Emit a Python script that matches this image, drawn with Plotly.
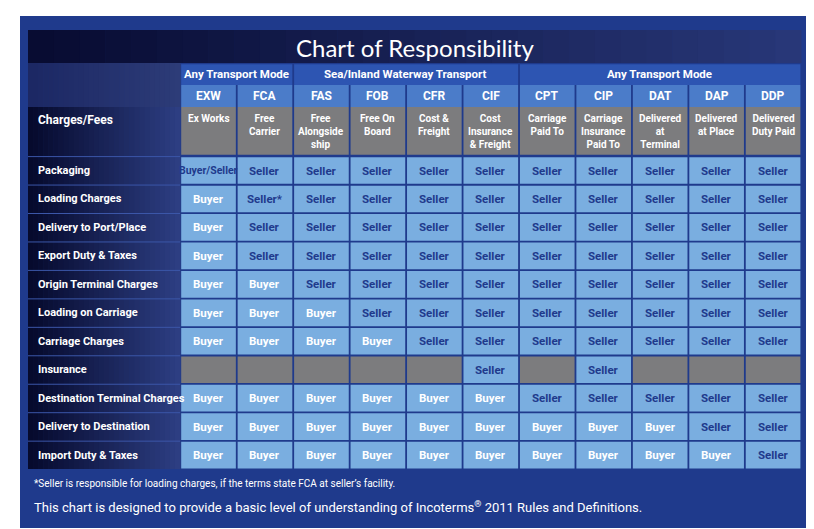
import plotly.graph_objects as go

title = "Chart of Responsibility"
groups = [("Any Transport Mode", 0, 2), ("Sea/Inland Waterway Transport", 2, 6), ("Any Transport Mode", 6, 11)]
codes = ["EXW", "FCA", "FAS", "FOB", "CFR", "CIF", "CPT", "CIP", "DAT", "DAP", "DDP"]
descs = ["Ex Works", "Free<br>Carrier", "Free<br>Alongside<br>ship", "Free On<br>Board", "Cost &<br>Freight",
         "Cost<br>Insurance<br>& Freight", "Carriage<br>Paid To", "Carriage<br>Insurance<br>Paid To",
         "Delivered<br>at<br>Terminal", "Delivered<br>at Place", "Delivered<br>Duty Paid"]
rows = ["Packaging", "Loading Charges", "Delivery to Port/Place", "Export Duty & Taxes", "Origin Terminal Charges",
        "Loading on Carriage", "Carriage Charges", "Insurance", "Destination Terminal Charges",
        "Delivery to Destination", "Import Duty & Taxes"]
B, S, N = "Buyer", "Seller", ""
values = [
    ["Buyer/Seller", S, S, S, S, S, S, S, S, S, S],
    [B, "Seller*", S, S, S, S, S, S, S, S, S],
    [B, S, S, S, S, S, S, S, S, S, S],
    [B, S, S, S, S, S, S, S, S, S, S],
    [B, B, S, S, S, S, S, S, S, S, S],
    [B, B, B, S, S, S, S, S, S, S, S],
    [B, B, B, B, S, S, S, S, S, S, S],
    [N, N, N, N, N, S, N, S, N, N, N],
    [B, B, B, B, B, B, S, S, S, S, S],
    [B, B, B, B, B, B, B, B, B, S, S],
    [B, B, B, B, B, B, B, B, B, B, S],
]
footnote = "*Seller is responsible for loading charges, if the terms state FCA at seller’s facility."
caption = "This chart is designed to provide a basic level of understanding of Incoterms<sup>®</sup> 2011 Rules and Definitions."

FONT = "Roboto, Liberation Sans, sans-serif"
X0, XL, X1 = 20, 172, 793
CW = (X1 - XL) / len(codes)
Y_T, Y_G, Y_C, Y_D, Y_R = 22, 55, 77, 99, 148
RH = (461 - Y_R) / len(rows)
GAP = 1.2

shapes, ann = [], []
def rect(x0, y0, x1, y1, color, layer="below"):
    shapes.append(dict(type="rect", xref="x", yref="y", x0=x0, y0=y0, x1=x1, y1=y1,
                       fillcolor=color, line=dict(width=0), layer=layer))
def text(x, y, t, size, color, xa="center", family=FONT, ya="middle"):
    ann.append(dict(x=x, y=y, xref="x", yref="y", text=t, showarrow=False, xanchor=xa, yanchor=ya,
                    font=dict(family=family, size=size, color=color)))

rect(12, 8, 806, 520, "#1f3a8c")
def lerp(c1, c2, t):
    return "rgb(%d,%d,%d)" % tuple(int(a + (b - a) * t) for a, b in zip(c1, c2))
n = 30
for i in range(n):
    t = i / (n - 1)
    xa = X0 + (X1 - X0) * i / n; xb = X0 + (X1 - X0) * (i + 1) / n + 0.5
    rect(xa, Y_T, xb, Y_G, lerp((8, 12, 50), (40, 55, 120), t))
    xa = X0 + (XL - X0) * i / n; xb = X0 + (XL - X0) * (i + 1) / n + 0.5
    rect(xa, Y_G, xb, Y_D, lerp((28, 40, 100), (45, 60, 120), t))
    rect(xa, Y_D, xb, Y_R + RH * len(rows), lerp((6, 10, 45), (45, 62, 130), t))
text((X0 + X1) / 2, (Y_T + Y_G) / 2 + 1, title, 24, "white", family="Lato, Open Sans, sans-serif")

for name, a, b in groups:
    rect(XL + a * CW + GAP, Y_G + GAP, XL + b * CW - GAP / 2, Y_C, "#2d55b2")
    text(XL + (a + b) / 2 * CW, (Y_G + Y_C) / 2, "<b>" + name + "</b>", 11.5, "white")
for j, (c, d) in enumerate(zip(codes, descs)):
    xa, xb = XL + j * CW + GAP, XL + (j + 1) * CW - GAP / 2
    rect(xa, Y_C, xb, Y_D, "#4b7cc9")
    rect(xa, Y_D, xb, Y_R - GAP, "#7c7c7e")
    text((xa + xb) / 2, (Y_C + Y_D) / 2, "<b>" + c + "</b>", 12, "white")
    text((xa + xb) / 2, Y_D + 4, "<b>" + d + "</b>", 10, "white", ya="top")
text(28, Y_D + 13, "<b>Charges/Fees</b>", 12, "white", xa="left")

for i, r in enumerate(rows):
    ya, yb = Y_R + i * RH + GAP, Y_R + (i + 1) * RH - GAP / 2
    text(28, (ya + yb) / 2, "<b>" + r + "</b>", 11, "white", xa="left")
    shapes.append(dict(type="line", xref="x", yref="y", x0=X0, x1=XL, y0=ya - GAP / 2, y1=ya - GAP / 2,
                       line=dict(color="#3b56a8", width=1)))
    for j, v in enumerate(values[i]):
        xa, xb = XL + j * CW + GAP, XL + (j + 1) * CW - GAP / 2
        rect(xa, ya, xb, yb, "#7aaee0" if v else "#7c7c7e")
        if v:
            col = "#ffffff" if v == B else "#1f3a8c"
            text((xa + xb) / 2, (ya + yb) / 2, "<b>" + v + "</b>", 10.5 if len(v) > 7 else 11.5, col)

text(24, 475, footnote, 10, "white", xa="left")
text(24, 499, caption, 13, "white", xa="left")

fig = go.Figure()
fig.update_layout(width=814, height=529, margin=dict(l=0, r=0, t=0, b=0),
                  paper_bgcolor="white", plot_bgcolor="white", shapes=shapes, annotations=ann,
                  xaxis=dict(range=[0, 814], visible=False, fixedrange=True),
                  yaxis=dict(range=[529, 0], visible=False, fixedrange=True), showlegend=False)
fig.write_html("out.html")
